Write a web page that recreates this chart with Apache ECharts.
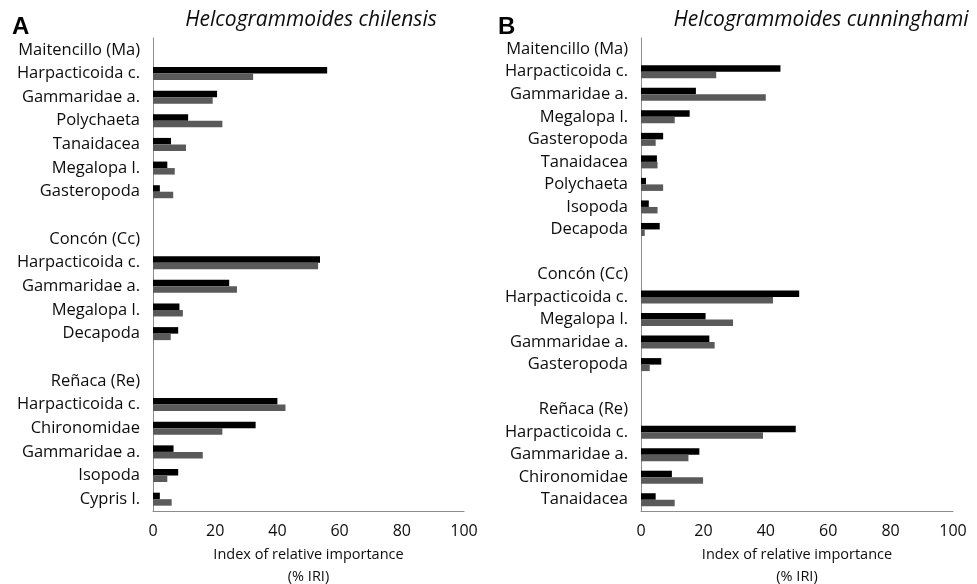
<!DOCTYPE html>
<html>
<head>
<meta charset="utf-8">
<script src="https://cdn.jsdelivr.net/npm/echarts@6/dist/echarts.min.js"></script>
<style>html,body{margin:0;padding:0;background:#fff}#c{width:977px;height:584px}</style>
</head>
<body>
<div id="c"></div>
<script>
// Panel A: Helcogrammoides chilensis
var catsA = ['Maitencillo (Ma)','Harpacticoida c.','Gammaridae a.','Polychaeta','Tanaidacea','Megalopa l.','Gasteropoda','',
             'Concón (Cc)','Harpacticoida c.','Gammaridae a.','Megalopa l.','Decapoda','',
             'Reñaca (Re)','Harpacticoida c.','Chironomidae','Gammaridae a.','Isopoda','Cypris l.'];
var blackA = [null,56,20.6,11.3,5.8,4.6,2.2,null, null,53.7,24.5,8.5,8.1,null, null,40,33,6.6,8.1,2.2];
var grayA  = [null,32.2,19.2,22.3,10.6,7,6.5,null, null,53.1,27,9.6,5.7,null, null,42.6,22.3,16,4.6,6];
// Panel B: Helcogrammoides cunninghami
var catsB = ['Maitencillo (Ma)','Harpacticoida c.','Gammaridae a.','Megalopa l.','Gasteropoda','Tanaidacea','Polychaeta','Isopoda','Decapoda','',
             'Concón (Cc)','Harpacticoida c.','Megalopa l.','Gammaridae a.','Gasteropoda','',
             'Reñaca (Re)','Harpacticoida c.','Gammaridae a.','Chironomidae','Tanaidacea'];
var blackB = [null,44.7,17.6,15.6,7.1,5.1,1.6,2.5,6,null, null,50.7,20.7,21.9,6.5,null, null,49.6,18.7,9.9,4.7];
var grayB  = [null,24.1,40,10.8,4.7,5.3,7.1,5.3,1.2,null, null,42.3,29.5,23.6,2.8,null, null,39.1,15.2,19.9,10.8];
var xTicks = [0,20,40,60,80,100];
var titles = ['Helcogrammoides chilensis','Helcogrammoides cunninghami'];
var panelLetters = ['A','B'];

var FONT = 'Open Sans';
var axisColor = '#8c8c8c';
var textColor = '#0d0d0d';

function xAxisFor(i){
  return {
    type:'value', gridIndex:i, min:xTicks[0], max:xTicks[xTicks.length-1], interval:20,
    axisLine:{show:true,lineStyle:{color:axisColor,width:1}},
    axisTick:{show:false}, splitLine:{show:false},
    axisLabel:{color:textColor,fontFamily:FONT,fontSize:16,margin:12},
    name:'Index of relative importance\n(% IRI)', nameLocation:'middle', nameGap:30,
    nameTextStyle:{color:textColor,fontFamily:FONT,fontSize:14.5,lineHeight:22,verticalAlign:'top'}
  };
}
function yAxisFor(i,cats){
  return {
    type:'category', gridIndex:i, data:cats, inverse:true,
    axisLine:{show:true,lineStyle:{color:axisColor,width:1}},
    axisTick:{show:false},
    axisLabel:{color:textColor,fontFamily:FONT,fontSize:16.5,margin:13,interval:0}
  };
}
function barSeries(i,data,color){
  return {type:'bar',xAxisIndex:i,yAxisIndex:i,data:data,barWidth:6.5,barGap:'0%',
          itemStyle:{color:color},silent:true,animation:false};
}

var chart = echarts.init(document.getElementById('c'),null,{renderer:'canvas'});
chart.setOption({
  backgroundColor:'#fff',
  animation:false,
  title:[
    {text:panelLetters[0],left:7,top:10,textStyle:{fontFamily:'Liberation Sans',fontWeight:'bold',fontSize:24,color:'#000'}},
    {text:titles[0],left:306,top:5,textAlign:'center',textStyle:{fontFamily:FONT,fontStyle:'italic',fontWeight:'normal',fontSize:21,color:textColor}},
    {text:panelLetters[1],left:493,top:10,textStyle:{fontFamily:'Liberation Sans',fontWeight:'bold',fontSize:24,color:'#000'}},
    {text:titles[1],left:816,top:5,textAlign:'center',textStyle:{fontFamily:FONT,fontStyle:'italic',fontWeight:'normal',fontSize:21,color:textColor}}
  ],
  grid:[
    {left:153,width:311,top:38,bottom:73,containLabel:false,outerBoundsMode:'none'},
    {left:641,width:312,top:38,bottom:73,containLabel:false,outerBoundsMode:'none'}
  ],
  xAxis:[xAxisFor(0),xAxisFor(1)],
  yAxis:[yAxisFor(0,catsA),yAxisFor(1,catsB)],
  series:[
    barSeries(0,blackA,'#000000'), barSeries(0,grayA,'#5a5a5a'),
    barSeries(1,blackB,'#000000'), barSeries(1,grayB,'#5a5a5a')
  ]
});
</script>
</body>
</html>
